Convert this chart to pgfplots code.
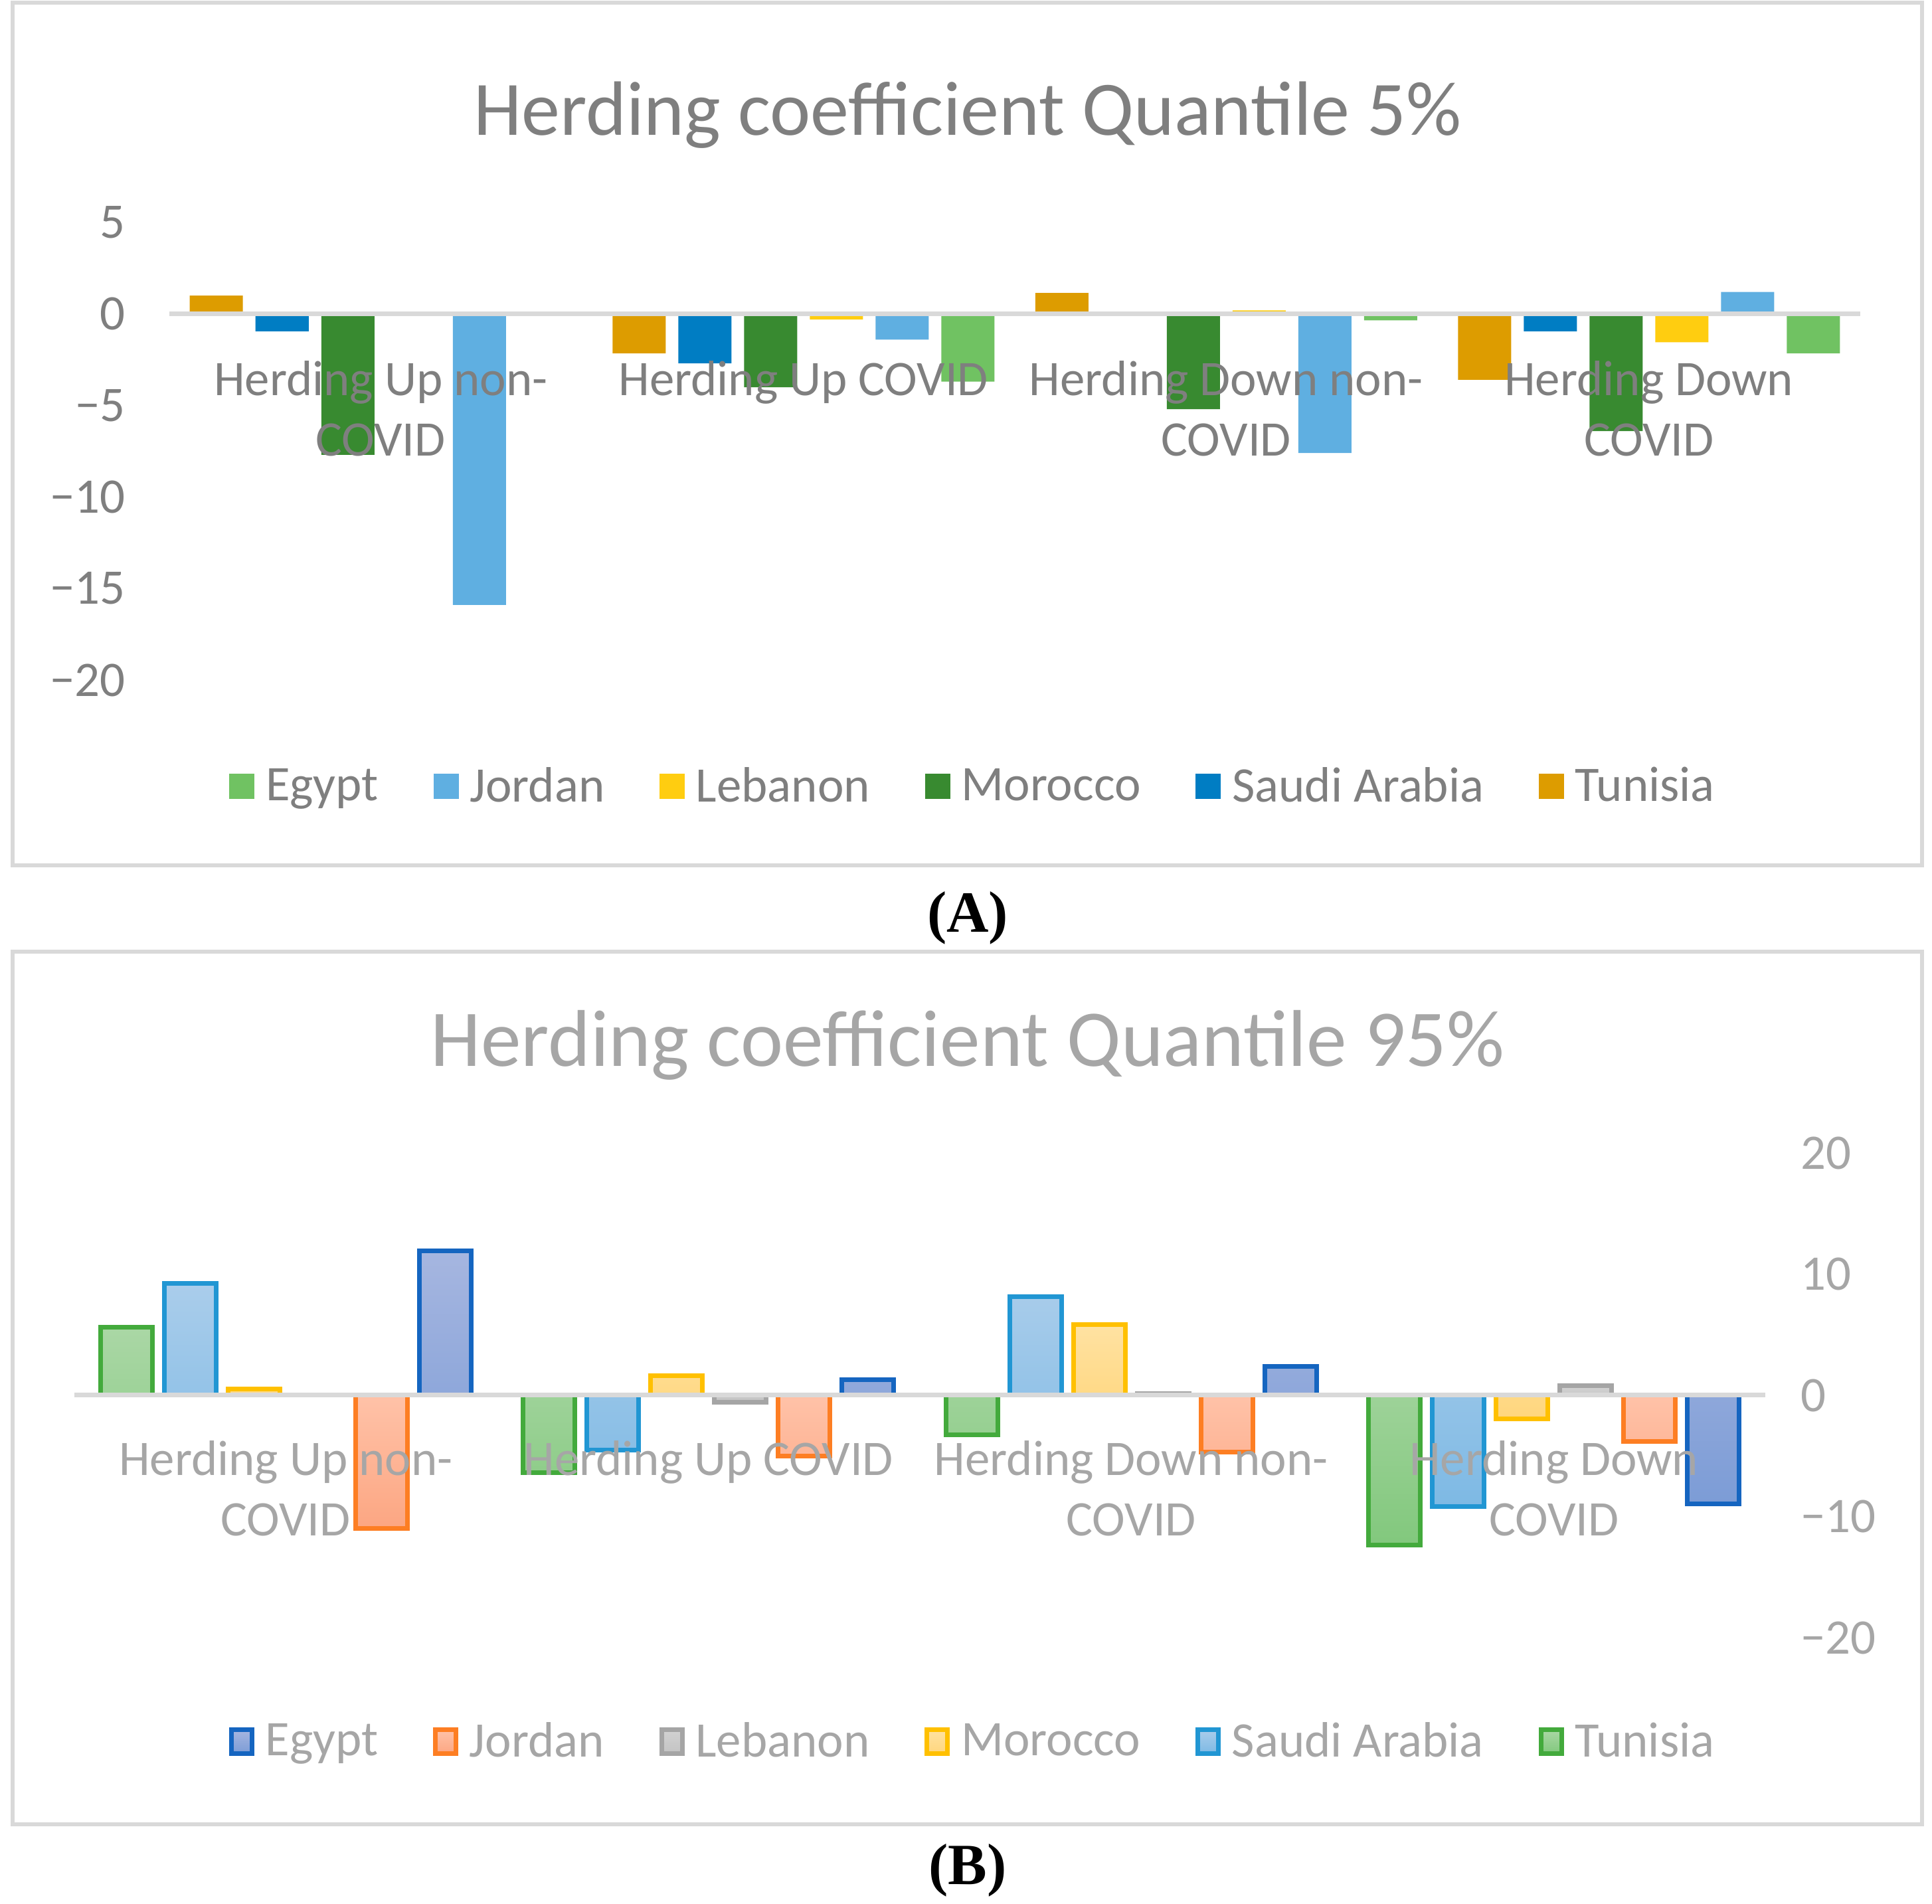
\documentclass[border=0pt]{standalone}
\usepackage{fontspec}
\setmainfont{Carlito}
\newfontfamily\capfont{Liberation Serif}
\usepackage{pgfplots}
\usepackage{pgfplotstable}
\pgfplotsset{compat=1.18}

\definecolor{gridgray}{RGB}{217,217,217}
\definecolor{txtA}{RGB}{127,127,127}
\definecolor{txtB}{RGB}{166,166,166}
% panel A
\definecolor{aTun}{RGB}{221,156,0}
\definecolor{aSau}{RGB}{0,125,195}
\definecolor{aMor}{RGB}{56,138,48}
\definecolor{aLeb}{RGB}{255,205,16}
\definecolor{aJor}{RGB}{95,175,225}
\definecolor{aEgy}{RGB}{112,194,98}
% panel B: border, light top, darker bottom
\definecolor{bTun}{RGB}{67,170,60}
\definecolor{bTunT}{RGB}{170,215,165}
\definecolor{bTunB}{RGB}{130,200,125}
\definecolor{bSau}{RGB}{33,150,211}
\definecolor{bSauT}{RGB}{170,205,235}
\definecolor{bSauB}{RGB}{125,185,228}
\definecolor{bMor}{RGB}{255,192,0}
\definecolor{bMorT}{RGB}{255,226,162}
\definecolor{bMorB}{RGB}{255,214,125}
\definecolor{bLeb}{RGB}{165,165,165}
\definecolor{bLebT}{RGB}{210,210,210}
\definecolor{bLebB}{RGB}{195,195,195}
\definecolor{bJor}{RGB}{253,126,35}
\definecolor{bJorT}{RGB}{255,194,168}
\definecolor{bJorB}{RGB}{252,166,130}
\definecolor{bEgy}{RGB}{21,101,192}
\definecolor{bEgyT}{RGB}{166,182,224}
\definecolor{bEgyB}{RGB}{124,156,214}

\pgfplotstableread{
x Tun Sau Mor Leb Jor Egy
0  1.0  -0.95 -7.7  0     -15.9  0
1 -2.15 -2.7  -4.0 -0.3   -1.4  -3.7
2  1.15  0    -5.2  0.2   -7.6  -0.35
3 -3.6  -0.95 -6.4 -1.55   1.2  -2.15
}\dataA

\pgfplotstableread{
x Tun Sau Mor Leb Jor Egy
0  5.6   9.25  0.5   0.05 -11.0  11.9
1 -6.4  -4.5   1.6  -0.55  -5.0   1.3
2 -3.25  8.15  5.85  0.15  -4.7   2.4
3 -12.35 -9.2 -1.95  0.8   -3.8  -8.95
}\dataB

\pgfplotsset{
  sqA/.style={legend image code/.code={\fill[##1] (0cm,-0.19cm) rectangle (0.38cm,0.19cm);}},
  sqB/.style={legend image code/.code={\draw[##1] (0.035cm,-0.18cm) rectangle (0.345cm,0.18cm);}},
  herd/.style={
    scale only axis, width=25.46cm,
    xmin=-0.5, xmax=3.5, xtick={0,1,2,3},
    xticklabels={{Herding Up non-\\COVID},{Herding Up COVID},{Herding Down non-\\COVID},{Herding Down\\COVID}},
    axis line style={draw=none}, tick style={draw=none}, major tick length=0pt,
    axis on top, clip=false,
    extra y ticks={0}, extra y tick labels={},
    extra y tick style={grid=major, major grid style={draw=gridgray, line width=2pt}},
    tick label style={font=\fontsize{21.3}{26}\selectfont},
    xticklabel style={align=center},
    legend columns=6, reverse legend,
    legend style={draw=none, fill=none, font=\fontsize{21.3}{25}\selectfont,
      nodes={inner xsep=1.68mm},
      /tikz/every even column/.append style={column sep=0.66cm}},
  },
}

\begin{document}
\begin{tikzpicture}
\useasboundingbox (0,0) rectangle (29.09,28.67);

% frames
\draw[gridgray, line width=0.55mm] (0.19,28.63) rectangle (28.94,15.64);
\draw[gridgray, line width=0.55mm] (0.19,14.34) rectangle (28.94,1.20);

% panel A
\begin{axis}[herd,
  at={(2.55cm,18.43cm)}, anchor=south west, height=6.89cm,
  ymin=-20, ymax=5, ytick={-20,-15,...,5},
  yticklabels={−20,−15,−10,−5,0,5},
  ticklabel style={text=txtA},
  yticklabel style={anchor=east, xshift=-0.54cm},
  xticklabel style={yshift=4.93cm},
  ybar=0.19cm, bar width=0.80cm,
  every axis plot/.append style={sqA},
  legend style={text=txtA, at={(0.478,-0.232)}, anchor=center},
]
\addplot[fill=aTun, draw=none] table[x=x,y=Tun]{\dataA};
\addplot[fill=aSau, draw=none] table[x=x,y=Sau]{\dataA};
\addplot[fill=aMor, draw=none] table[x=x,y=Mor]{\dataA};
\addplot[fill=aLeb, draw=none] table[x=x,y=Leb]{\dataA};
\addplot[fill=aJor, draw=none] table[x=x,y=Jor]{\dataA};
\addplot[fill=aEgy, draw=none] table[x=x,y=Egy]{\dataA};
\legend{Tunisia,Saudi Arabia,Morocco,Lebanon,Jordan,Egypt}
\end{axis}

% panel B
\begin{axis}[herd,
  at={(1.12cm,4.01cm)}, anchor=south west, height=7.30cm,
  ymin=-20, ymax=20, ytick={-20,-10,...,20},
  yticklabels={−20,−10,0,10,20},
  yticklabel pos=right,
  ticklabel style={text=txtB},
  yticklabel style={anchor=west, xshift=0.41cm},
  xticklabel style={yshift=3.09cm},
  ybar=0.18cm, bar width=0.78cm,
  every axis plot/.append style={sqB, line width=2pt},
  legend style={text=txtB, at={(0.534,-0.2143)}, anchor=center},
]
\addplot[draw=bTun, top color=bTunT, bottom color=bTunB] table[x=x,y=Tun]{\dataB};
\addplot[draw=bSau, top color=bSauT, bottom color=bSauB] table[x=x,y=Sau]{\dataB};
\addplot[draw=bMor, top color=bMorT, bottom color=bMorB] table[x=x,y=Mor]{\dataB};
\addplot[draw=bLeb, top color=bLebT, bottom color=bLebB] table[x=x,y=Leb]{\dataB};
\addplot[draw=bJor, top color=bJorT, bottom color=bJorB] table[x=x,y=Jor]{\dataB};
\addplot[draw=bEgy, top color=bEgyT, bottom color=bEgyB] table[x=x,y=Egy]{\dataB};
\legend{Tunisia,Saudi Arabia,Morocco,Lebanon,Jordan,Egypt}
\end{axis}

% titles and captions
\node[font=\fontsize{33}{40}\selectfont, text=txtA, anchor=base] at (14.57,26.63) {Herding coefficient Quantile 5\%};
\node[font=\fontsize{34.5}{41}\selectfont, text=txtB, anchor=base] at (14.57,12.61) {Herding coefficient Quantile 95\%};
\node[font=\capfont\bfseries\fontsize{25}{30}\selectfont, anchor=base] at (14.57,14.63) {(A)};
\node[font=\capfont\bfseries\fontsize{25}{30}\selectfont, anchor=base] at (14.57,0.29) {(B)};
\end{tikzpicture}
\end{document}
